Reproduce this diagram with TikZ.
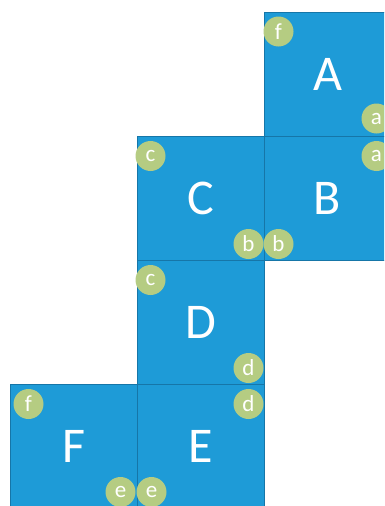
\documentclass[tikz,border=0pt]{standalone}
\usepackage{fontspec}
\setmainfont{Carlito}
\definecolor{faceblue}{RGB}{30,155,215}
\definecolor{edgeblue}{RGB}{22,118,168}
\definecolor{taggreen}{RGB}{181,204,130}

\begin{document}
\begin{tikzpicture}[x=1pt, y=-1pt,
    face/.style={rectangle, fill=faceblue, draw=edgeblue, line width=1pt, minimum width=127pt, minimum height=124pt, inner sep=0pt, text=white, font=\fontsize{50}{50}\selectfont},
    tag/.style={circle, fill=taggreen, minimum size=30pt, inner sep=0pt, text=white, font=\fontsize{23}{23}\selectfont}]
    \useasboundingbox (0,0) rectangle (384,506);
    \clip (0,0) rectangle (384,506);
    % the six faces
    \node[face] (A) at (327.5, 74) {A};
    \node[face] (B) at (327.5, 198.5) {B};
    \node[face] (C) at (200.5, 198.5) {C};
    \node[face] (D) at (200.5, 322.5) {D};
    \node[face] (E) at (200.5, 446.5) {E};
    \node[face] (F) at (73.5, 446.5) {F};
    % corner tags
    \node[tag] (Af) at ([shift={(15,20)}]A.north west) {f};
    \node[tag] (Aa) at ([shift={(-15,-18)}]A.south east) {a};
    \node[tag] (Ba) at ([shift={(-15,20)}]B.north east) {a};
    \node[tag] (Bb) at ([shift={(15,-17)}]B.south west) {b};
    \node[tag] (Cc) at ([shift={(14,20)}]C.north west) {c};
    \node[tag] (Cb) at ([shift={(-16,-17)}]C.south east) {b};
    \node[tag] (Dc) at ([shift={(14,20)}]D.north west) {c};
    \node[tag] (Dd) at ([shift={(-16,-17)}]D.south east) {d};
    \node[tag] (Ed) at ([shift={(-16,20)}]E.north east) {d};
    \node[tag] (Ee) at ([shift={(15,-17)}]E.south west) {e};
    \node[tag] (Ff) at ([shift={(19,20)}]F.north west) {f};
    \node[tag] (Fe) at ([shift={(-17,-17)}]F.south east) {e};
\end{tikzpicture}
\end{document}
